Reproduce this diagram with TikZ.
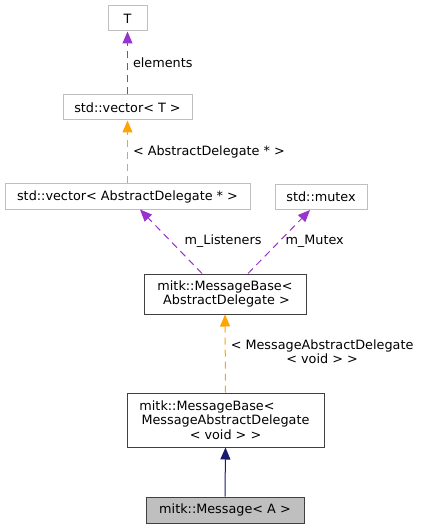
\documentclass[tikz,border=0pt]{standalone}
\usepackage{fontspec}
\setmainfont{DejaVu Sans}
\usetikzlibrary{arrows.meta}

\begin{document}
\begin{tikzpicture}[x=1pt, y=-1pt,
    classBox/.style={draw=boxGrey, fill=white, line width=1pt, inner sep=0pt, align=center, font=\fontsize{12.8}{14.5}\selectfont},
    edgeLabel/.style={font=\fontsize{12.8}{14.5}\selectfont, inner sep=0pt, align=center},
    memberEdge/.style={draw=memberColour, dash pattern=on 7pt off 5pt, line width=1pt, -{Triangle[length=12pt, width=10pt]}},
    templateEdge/.style={draw=templateColour, dash pattern=on 7pt off 5pt, line width=1pt, -{Triangle[length=12pt, width=10pt]}},
    baseEdge/.style={draw=baseColour, line width=1pt, -{Triangle[length=12pt, width=10pt]}}]

    \definecolor{boxGrey}{HTML}{BFBFBF}
    \definecolor{boxBlack}{HTML}{404040}
    \definecolor{memberColour}{HTML}{9A32CD}
    \definecolor{templateColour}{HTML}{FFA500}
    \definecolor{baseColour}{HTML}{191970}

    % Fix the page size
    \useasboundingbox (0,0) rectangle (421,529);

    % Class boxes
    \node[classBox, minimum width=39pt, minimum height=25pt] (T) at (127.5,18.5) {T};
    \node[classBox, minimum width=129pt, minimum height=25pt] (vecT) at (127.5,107.5) {std::vector< T >};
    \node[classBox, minimum width=245pt, minimum height=25pt] (vecAD) at (127.5,196.5) {std::vector< AbstractDelegate * >};
    \node[classBox, minimum width=92pt, minimum height=25pt] (mutex) at (321,197) {std::mutex};
    \node[classBox, draw=boxBlack, minimum width=162pt, minimum height=40pt] (mbAD) at (225,294) {mitk::MessageBase<\\ \hspace*{3pt}AbstractDelegate >};
    \node[classBox, draw=boxBlack, minimum width=197pt, minimum height=54pt] (mbMAD) at (225.5,420) {\hspace*{-37pt}mitk::MessageBase<\\ MessageAbstractDelegate\\< void > >};
    \node[classBox, draw=boxBlack, fill=boxGrey, minimum width=158pt, minimum height=26pt] (msg) at (225,510) {mitk::Message< A >};

    % Members
    \draw[memberEdge] (vecT.north) -- (T.south) node[edgeLabel, midway, anchor=west, xshift=5pt] {elements};
    \draw[memberEdge] ([xshift=-23pt]mbAD.north) -- ([xshift=12.5pt]vecAD.south) node[edgeLabel, midway, anchor=west, xshift=13pt] {m\_Listeners};
    \draw[memberEdge] ([xshift=23pt]mbAD.north) -- ([xshift=-11pt]mutex.south) node[edgeLabel, midway, anchor=west, xshift=6pt] {m\_Mutex};

    % Template instances
    \draw[templateEdge] (vecAD.north) -- (vecT.south) node[edgeLabel, midway, anchor=west, xshift=5pt] {< AbstractDelegate * >};
    \draw[templateEdge] (mbMAD.north) -- (mbAD.south) node[edgeLabel, midway, anchor=west, xshift=5pt, yshift=2pt] {< MessageAbstractDelegate\\< void > >};

    % Inheritance
    \draw[baseEdge] (msg.north) -- (mbMAD.south);

\end{tikzpicture}
\end{document}
